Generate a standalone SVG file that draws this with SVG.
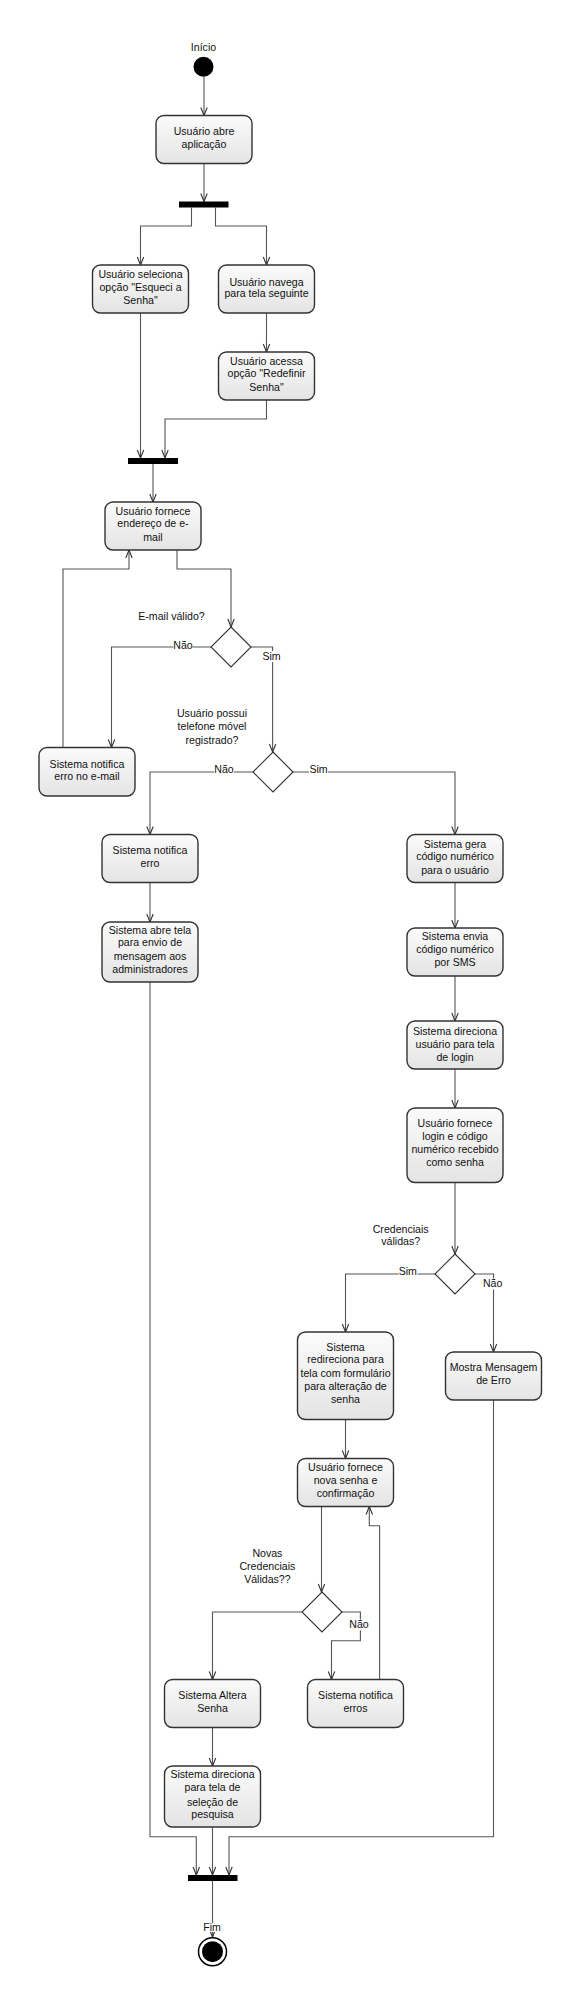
<svg xmlns="http://www.w3.org/2000/svg" width="581" height="2006" viewBox="0 0 581 2006">
<style>
.box rect{fill:url(#g);stroke:#333;stroke-width:1.4}
.box text,.lbl{font-family:"Liberation Sans",Arial,sans-serif;font-size:10.6px;fill:#111;text-anchor:middle}
.bar{fill:#000}
.dia{fill:#fff;stroke:#333;stroke-width:1.1}
#connectors path{fill:none;stroke:#555;stroke-width:1.1}
.bg{fill:#fff}
</style>
<defs>
<linearGradient id="g" x1="0" y1="0" x2="0" y2="1">
<stop offset="0" stop-color="#fbfbfb"/>
<stop offset="1" stop-color="#e4e4e4"/>
</linearGradient>
<marker id="a" markerUnits="userSpaceOnUse" viewBox="-9 -5 10 10" refX="0" refY="0" markerWidth="10" markerHeight="10" orient="auto">
<path d="M-8,-3.2 L0,0 L-8,3.2" fill="none" stroke="#333" stroke-width="1.1"/>
</marker>
</defs>
<rect width="581" height="2006" fill="#fff"/>

<g id="connectors">
<path d="M204,77 V115.5" marker-end="url(#a)"/>
<path d="M204,163.5 V201.5" marker-end="url(#a)"/>
<path d="M191.5,207.5 V226 H140.5 V265" marker-end="url(#a)"/>
<path d="M215.5,207.5 V226 H266.5 V265" marker-end="url(#a)"/>
<path d="M140.5,313 V458" marker-end="url(#a)"/>
<path d="M266.5,313 V352" marker-end="url(#a)"/>
<path d="M266.5,400 V419 H165 V458" marker-end="url(#a)"/>
<path d="M153,464 V502" marker-end="url(#a)"/>
<path d="M177,550 V569 H231 V627" marker-end="url(#a)"/>
<path d="M211,647 H111.5 V747.5" marker-end="url(#a)"/>
<path d="M251,647 H272.6 V752" marker-end="url(#a)"/>
<path d="M63,747.5 V569 H129 V550" marker-end="url(#a)"/>
<path d="M253,772 H150 V834.5" marker-end="url(#a)"/>
<path d="M293,772 H455 V834.5" marker-end="url(#a)"/>
<path d="M150,882.5 V922" marker-end="url(#a)"/>
<path d="M150,982 V1836.7 H196.3 V1875" marker-end="url(#a)"/>
<path d="M455,882.5 V928" marker-end="url(#a)"/>
<path d="M455,976 V1021" marker-end="url(#a)"/>
<path d="M455,1069 V1108" marker-end="url(#a)"/>
<path d="M455,1182.5 V1254" marker-end="url(#a)"/>
<path d="M435,1274 H345.5 V1332" marker-end="url(#a)"/>
<path d="M475,1274 H493.5 V1352" marker-end="url(#a)"/>
<path d="M345.5,1419.5 V1458.5" marker-end="url(#a)"/>
<path d="M321.5,1506.5 V1592" marker-end="url(#a)"/>
<path d="M302,1612 H212.5 V1679.5" marker-end="url(#a)"/>
<path d="M342,1612 H360.4 V1640.7 H331.5 V1679.5" marker-end="url(#a)"/>
<path d="M379.6,1679.5 V1525.7 H369.3 V1506.5" marker-end="url(#a)"/>
<path d="M493.5,1400 V1836.7 H229 V1875" marker-end="url(#a)"/>
<path d="M212.5,1727.5 V1766" marker-end="url(#a)"/>
<path d="M212.5,1827 V1875" marker-end="url(#a)"/>
<path d="M212.5,1881 V1937" marker-end="url(#a)"/>
</g>

<g id="start">
<text class="lbl" x="203.5" y="51">Início</text>
<circle cx="203.5" cy="66.7" r="10" fill="#000"/>
</g>

<g id="n1" class="box"><rect x="156" y="115.5" width="96" height="48" rx="8"/>
<text x="204" y="134.5">Usuário abre</text><text x="204" y="147.5">aplicação</text></g>

<g id="fork1"><rect class="bar" x="179" y="201.5" width="49.5" height="6"/></g>

<g id="n2" class="box"><rect x="92.5" y="265" width="96" height="48" rx="8"/>
<text x="140.5" y="277.8">Usuário seleciona</text><text x="140.5" y="291">opção "Esqueci a</text><text x="140.5" y="303.8">Senha"</text></g>

<g id="n3" class="box"><rect x="218.5" y="265" width="96" height="48" rx="8"/>
<text x="266.5" y="285.5">Usuário navega</text><text x="266.5" y="297">para tela seguinte</text></g>

<g id="n4" class="box"><rect x="218.5" y="352" width="96" height="48" rx="8"/>
<text x="266.5" y="364.8">Usuário acessa</text><text x="266.5" y="377">opção "Redefinir</text><text x="266.5" y="390.5">Senha"</text></g>

<g id="join1"><rect class="bar" x="128" y="458" width="50" height="6"/></g>

<g id="n5" class="box"><rect x="105" y="502" width="96" height="48" rx="8"/>
<text x="153" y="514.8">Usuário fornece</text><text x="153" y="527">endereço de e-</text><text x="153" y="540.5">mail</text></g>

<g id="d1"><text class="lbl" x="171.5" y="619.8">E-mail válido?</text>
<path class="dia" d="M231,627 L251,647 L231,667 L211,647 Z"/>
<rect class="bg" x="173.5" y="640" width="19" height="11"/><text class="lbl" x="183" y="648.8">Não</text>
<rect class="bg" x="263" y="651" width="18" height="11"/><text class="lbl" x="271.5" y="659.8">Sim</text></g>

<g id="n6" class="box"><rect x="39" y="747.5" width="96" height="48.5" rx="8"/>
<text x="87" y="768">Sistema notifica</text><text x="87" y="780">erro no e-mail</text></g>

<g id="d2"><text class="lbl" x="212" y="717">Usuário possui</text><text class="lbl" x="212" y="730">telefone móvel</text><text class="lbl" x="212" y="743.5">registrado?</text>
<path class="dia" d="M273,752 L293,772 L273,792 L253,772 Z"/>
<rect class="bg" x="214" y="765" width="20" height="10"/><text class="lbl" x="224" y="773">Não</text>
<rect class="bg" x="309" y="765" width="19" height="10"/><text class="lbl" x="318.5" y="773">Sim</text></g>

<g id="n7" class="box"><rect x="102" y="834.5" width="96" height="48" rx="8"/>
<text x="150" y="853.8">Sistema notifica</text><text x="150" y="867">erro</text></g>

<g id="n9" class="box"><rect x="102" y="922" width="96" height="60" rx="8"/>
<text x="150" y="933.8">Sistema abre tela</text><text x="150" y="946">para envio de</text><text x="150" y="959.8">mensagem aos</text><text x="150" y="972.8">administradores</text></g>

<g id="n8" class="box"><rect x="407" y="834.5" width="96" height="48" rx="8"/>
<text x="455" y="848">Sistema gera</text><text x="455" y="860">código numérico</text><text x="455" y="873.8">para o usuário</text></g>

<g id="n10" class="box"><rect x="407" y="928" width="96" height="48" rx="8"/>
<text x="455" y="939.8">Sistema envia</text><text x="455" y="952.8">código numérico</text><text x="455" y="965.8">por SMS</text></g>

<g id="n11" class="box"><rect x="407" y="1021" width="96" height="48" rx="8"/>
<text x="455" y="1034.8">Sistema direciona</text><text x="455" y="1047.5">usuário para tela</text><text x="455" y="1060.5">de login</text></g>

<g id="n12" class="box"><rect x="407" y="1108" width="96" height="74.5" rx="8"/>
<text x="455" y="1127">Usuário fornece</text><text x="455" y="1139.5">login e código</text><text x="455" y="1152.8">numérico recebido</text><text x="455" y="1166">como senha</text></g>

<g id="d3"><text class="lbl" x="400.7" y="1233">Credenciais</text><text class="lbl" x="400.7" y="1245">válidas?</text>
<path class="dia" d="M455,1254 L475,1274 L455,1294 L435,1274 Z"/>
<rect class="bg" x="398.5" y="1267" width="19" height="10"/><text class="lbl" x="407.8" y="1274.8">Sim</text>
<rect class="bg" x="483" y="1278.5" width="20" height="11"/><text class="lbl" x="492.6" y="1287">Não</text></g>

<g id="n13" class="box"><rect x="297.5" y="1332" width="96" height="87.5" rx="8"/>
<text x="345.5" y="1350.8">Sistema</text><text x="345.5" y="1363">redireciona para</text><text x="345.5" y="1377">tela com formulário</text><text x="345.5" y="1390">para alteração de</text><text x="345.5" y="1403">senha</text></g>

<g id="n14" class="box"><rect x="445.5" y="1352" width="96" height="48" rx="8"/>
<text x="493.5" y="1371">Mostra Mensagem</text><text x="493.5" y="1384">de Erro</text></g>

<g id="n15" class="box"><rect x="297.5" y="1458.5" width="96" height="48" rx="8"/>
<text x="345.5" y="1471">Usuário fornece</text><text x="345.5" y="1484">nova senha e</text><text x="345.5" y="1496.8">confirmação</text></g>

<g id="d4"><text class="lbl" x="267.4" y="1557">Novas</text><text class="lbl" x="267.4" y="1570">Credenciais</text><text class="lbl" x="267.4" y="1583">Válidas??</text>
<path class="dia" d="M322,1592 L342,1612 L322,1632 L302,1612 Z"/>
<rect class="bg" x="349.5" y="1619.5" width="20" height="11"/><text class="lbl" x="359" y="1627.8">Não</text></g>

<g id="n16" class="box"><rect x="164.5" y="1679.5" width="96" height="48" rx="8"/>
<text x="212.5" y="1698.8">Sistema Altera</text><text x="212.5" y="1712">Senha</text></g>

<g id="n17" class="box"><rect x="307.5" y="1679.5" width="96" height="48" rx="8"/>
<text x="355.5" y="1698.8">Sistema notifica</text><text x="355.5" y="1712">erros</text></g>

<g id="n18" class="box"><rect x="164.5" y="1766" width="96" height="61" rx="8"/>
<text x="212.5" y="1778">Sistema direciona</text><text x="212.5" y="1791">para tela de</text><text x="212.5" y="1805.5">seleção de</text><text x="212.5" y="1817.8">pesquisa</text></g>

<g id="join2"><rect class="bar" x="188" y="1875" width="49.5" height="6"/></g>

<g id="end">
<rect class="bg" x="203" y="1923" width="19" height="9"/>
<text class="lbl" x="212" y="1931">Fim</text>
<circle cx="212.5" cy="1951.7" r="14" fill="#fff" stroke="#000" stroke-width="1.5"/>
<circle cx="212.5" cy="1951.7" r="10.5" fill="#000"/>
</g>
</svg>
